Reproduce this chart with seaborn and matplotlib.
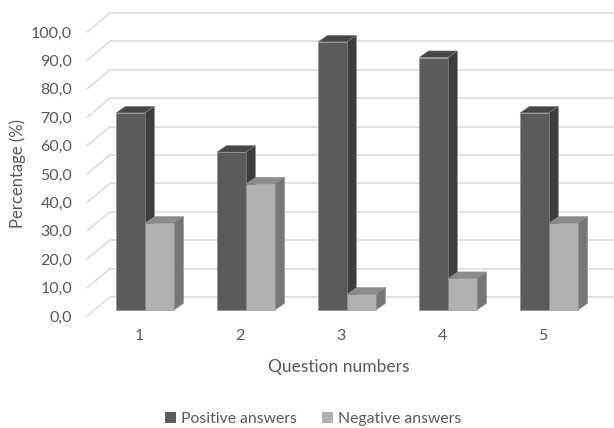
import numpy as np
import pandas as pd
import matplotlib
matplotlib.use("Agg")
import matplotlib.pyplot as plt
from matplotlib.patches import Polygon
from matplotlib.transforms import ScaledTranslation
import seaborn as sns

# Survey results per question (percent of respondents)
questions = ["1", "2", "3", "4", "5"]
positive = [69.4, 55.6, 94.4, 88.9, 69.4]
negative = [30.6, 44.4, 5.6, 11.1, 30.6]
series = ["Positive answers", "Negative answers"]
y_ticks = [0, 10, 20, 30, 40, 50, 60, 70, 80, 90, 100]
y_tick_labels = ["0,0", "10,0", "20,0", "30,0", "40,0", "50,0",
                 "60,0", "70,0", "80,0", "90,0", "100,0"]

front_colors = ["#5b5b5b", "#b1b1b1"]
top_colors = ["#474747", "#8c8c8c"]
side_colors = ["#3d3d3d", "#777777"]
text_color = "#595959"
grid_color = "#dadada"

df = pd.DataFrame({
    "question": questions * 2,
    "value": positive + negative,
    "series": [series[0]] * len(questions) + [series[1]] * len(questions),
})

sns.set_theme(style="white")
plt.rcParams["font.family"] = ["Lato", "DejaVu Sans"]

DPI = 100
fig = plt.figure(figsize=(6.14, 4.28), dpi=DPI)
ax = fig.add_axes([94.5 / 614, 118 / 428, 505 / 614, 284 / 428])

sns.barplot(data=df, x="question", y="value", hue="series",
            palette=front_colors, width=0.575, saturation=1,
            edgecolor="#8a8a8a", linewidth=0.4, legend=False, ax=ax, zorder=3)

ax.set_xlim(-0.5, 4.5)
ax.set_ylim(0, 100)

# pixel -> data unit conversion for the oblique depth effect
px_x = 505 / 5.0      # pixels per category
px_y = 284 / 100.0    # pixels per percent
def off(dx_px, dy_px):
    return dx_px / px_x, dy_px / px_y

bx, by = off(15.4, 13.0)     # back wall
fx, fy = off(-7.3, -6.0)     # front edge of floor
sx, sy = off(9.5, 6.6)       # bar depth

# back wall gridlines and the diagonal side-wall lines
for v in y_ticks:
    ax.plot([-0.5 + bx, 4.5 + bx], [v + by, v + by], color=grid_color,
            lw=1.1, clip_on=False, zorder=0)
    ax.plot([-0.5 + fx, -0.5 + bx], [v + fy, v + by], color=grid_color,
            lw=1.1, clip_on=False, zorder=0)

# add top and side faces to each bar
n = len(questions)
for i, p in enumerate(ax.patches):
    s = i // n
    x0, y0 = p.get_x(), p.get_y()
    w, h = p.get_width(), p.get_height()
    x1, y1 = x0 + w, y0 + h
    top = Polygon([(x0, y1), (x1, y1), (x1 + sx, y1 + sy), (x0 + sx, y1 + sy)],
                  closed=True, facecolor=top_colors[s], edgecolor="#8a8a8a",
                  linewidth=0.3, zorder=2 if s == 0 else 4, clip_on=False)
    side = Polygon([(x1, y0), (x1 + sx, y0 + sy), (x1 + sx, y1 + sy), (x1, y1)],
                   closed=True, facecolor=side_colors[s], edgecolor="#8a8a8a",
                   linewidth=0.3, zorder=2 if s == 0 else 4, clip_on=False)
    ax.add_patch(top)
    ax.add_patch(side)
    p.set_zorder(3 if s == 0 else 5)
    p.set_clip_on(False)

sns.despine(ax=ax, left=True, bottom=True)
ax.grid(False)

ax.set_yticks(y_ticks)
ax.set_yticklabels(y_tick_labels)
ax.tick_params(axis="y", length=0, pad=16, labelsize=11.5, labelcolor=text_color)
ax.tick_params(axis="x", length=0, pad=14, labelsize=11.5, labelcolor=text_color)
for lab in ax.get_yticklabels():
    lab.set_transform(lab.get_transform() + ScaledTranslation(0, -6 / DPI, fig.dpi_scale_trans))
for lab in ax.get_xticklabels():
    lab.set_transform(lab.get_transform() + ScaledTranslation(-6 / DPI, 0, fig.dpi_scale_trans))

ax.set_xlabel("")
ax.set_ylabel("")
fig.text(338.5 / 614, 1 - 366.7 / 428, "Question numbers", ha="center", va="center",
         fontsize=12.5, color=text_color)
fig.text(17.5 / 614, 1 - 173 / 428, "Percentage (%)", ha="center", va="center",
         rotation=90, fontsize=12, color=text_color)

handles = [plt.Rectangle((0, 0), 1, 1, facecolor=c, edgecolor="none") for c in front_colors]
fig.legend(handles, series, loc="center", bbox_to_anchor=(313 / 614, 1 - 419 / 428),
           ncol=2, frameon=False, fontsize=11.3, labelcolor=text_color,
           handlelength=0.7, handleheight=0.7, handletextpad=0.3, columnspacing=1.6)

fig.savefig("out.png", dpi=DPI)
